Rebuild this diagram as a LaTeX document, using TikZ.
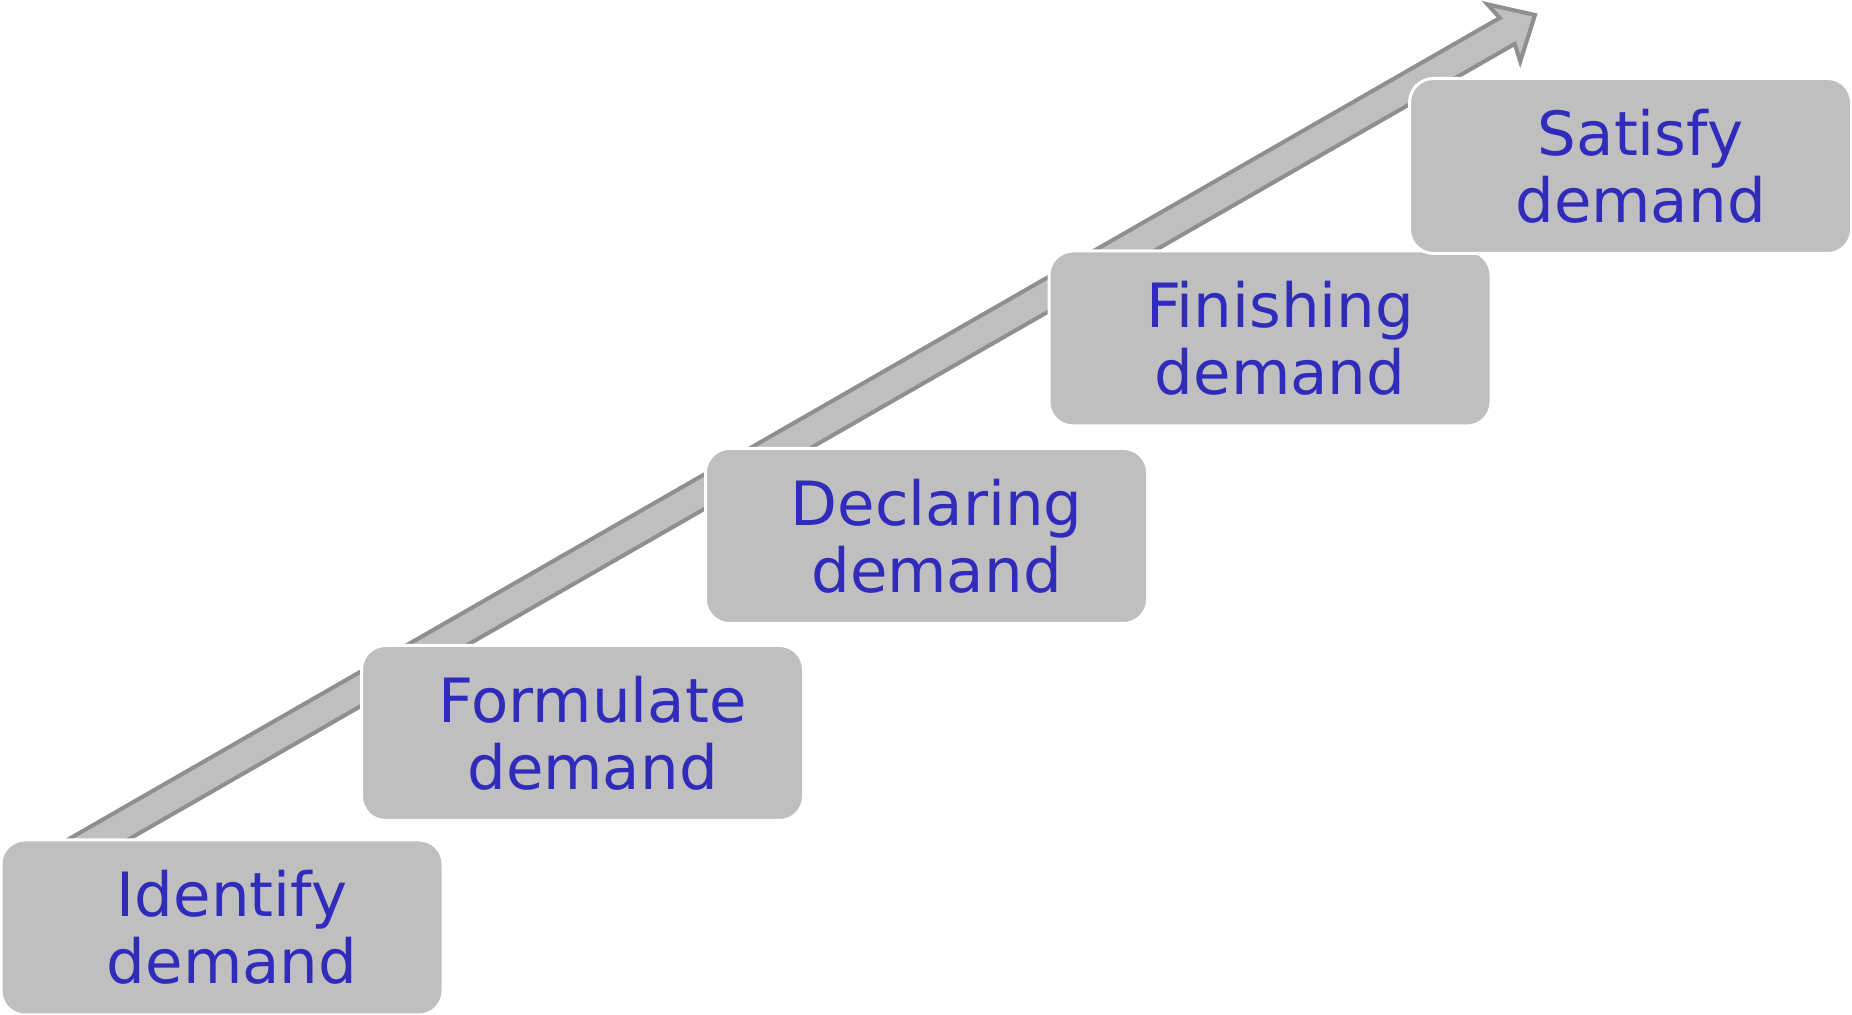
\documentclass[tikz,border=0pt]{standalone}
\usepackage{fontspec}
\setmainfont{DejaVu Sans}
\usepackage{tikz}
\usetikzlibrary{calc}

\definecolor{boxgray}{RGB}{191,191,191}
\definecolor{rimgray}{RGB}{143,143,143}
\definecolor{stepblue}{RGB}{48,43,187}

\begin{document}
\begin{tikzpicture}[x=0.5pt, y=0.5pt,
        step_style/.style={rectangle,rounded corners=12pt,draw=white,line width=1.5pt,fill=boxgray,
            minimum width=221pt,minimum height=87.5pt},
        step_text/.style={xshift=5pt,align=center,text=stepblue,
            font=\fontsize{30.5}{33.5}\selectfont},
        arrow_style/.style={draw=rimgray,line width=2pt,fill=boxgray,line join=miter}]

        \useasboundingbox (0,0) rectangle (1852,1015);

        % the rising arrow behind the steps
        \coordinate (tail) at (59,153);
        \coordinate (tip) at (1535,1000);
        \coordinate (headbase) at ($(tip)!18pt!(tail)$);
        \coordinate (notchbase) at ($(tip)!16pt!(tail)$);

        \draw [arrow_style] ($(tail)!7.5pt!90:(tip)$) -- ($(notchbase)!7.5pt!90:(tip)$)
            -- ($(headbase)!16.5pt!90:(tip)$) -- (tip) -- ($(headbase)!16.5pt!-90:(tip)$)
            -- ($(notchbase)!7.5pt!-90:(tip)$) -- ($(tail)!7.5pt!-90:(tip)$) -- cycle;

        \node [step_style,label={[step_text]center:{Identify\\demand}}](s1) at (222,87.5) {};

        \node [step_style,label={[step_text]center:{Formulate\\demand}}](s2) at (582.5,282) {};

        \node [step_style,label={[step_text]center:{Declaring\\demand}}](s3) at (926.5,479) {};

        \node [step_style,label={[step_text]center:{Finishing\\demand}}](s4) at (1270,676.5) {};

        \node [step_style,label={[step_text]center:{Satisfy\\demand}}](s5) at (1630.5,849) {};

        \end{tikzpicture}
\end{document}
